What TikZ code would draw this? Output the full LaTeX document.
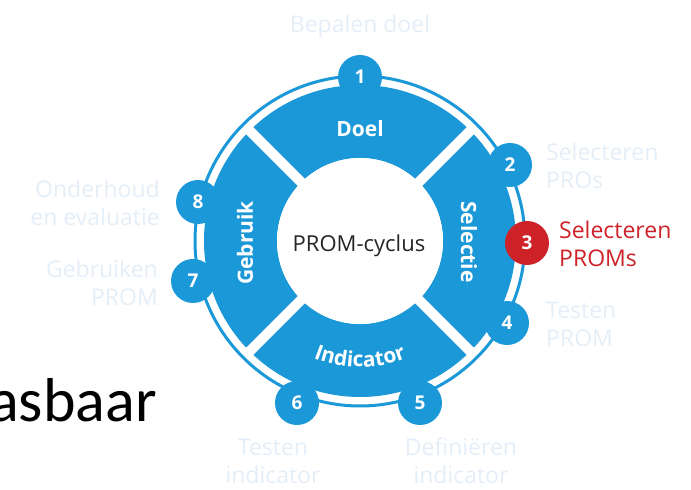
\documentclass[tikz,border=0pt]{standalone}
\usepackage{fontspec}
\setmainfont{Open Sans}
\newfontfamily\calibri{Carlito}
\usetikzlibrary{decorations.text}
\definecolor{promblue}{RGB}{27,152,216}
\definecolor{promred}{RGB}{204,34,40}
\definecolor{faint}{RGB}{228,238,248}
\begin{document}
\begin{tikzpicture}[x=1pt,y=1pt,
  num/.style={circle, fill=promblue, minimum size=44pt, inner sep=0pt, text=white, font=\bfseries\fontsize{19}{19}\selectfont},
  seglabel/.style={text=white, font=\bfseries\fontsize{21}{21}\selectfont, inner sep=0pt},
  faintlabel/.style={text=faint, font=\fontsize{23}{28}\selectfont, inner sep=0pt},
]
\useasboundingbox (0,0) rectangle (691,490);
\coordinate (c) at (360,249);
\fill[promblue, even odd rule] (c) circle[radius=156] (c) circle[radius=83];
\foreach \a in {45,135,225,315} \draw[white, line width=10pt] (c) -- ++(\a:160);
\node[circle, fill=white, minimum size=166pt, inner sep=0pt] (hub) at (c) {};
\node[anchor=base, inner sep=0pt, font=\fontsize{22}{22}\selectfont, text=black!85] (hubtext) at (359,238) {PROM-cyclus};
\draw[promblue, line width=3pt] (c) circle[radius=165];
% segment labels
\node[seglabel, anchor=base] (doel) at (360,353) {Doel};
\node[seglabel, rotate=-90] (selectie) at (469,248) {Selectie};
\node[seglabel, rotate=90] (gebruik) at (245,247) {Gebruik};
\path[decorate, decoration={text along path, text align=center,
  text={|\color{white}\bfseries\fontsize{21}{21}\selectfont|Indicator}}]
  (c) ++(235:126) arc[start angle=235, end angle=305, radius=126];
% numbers
\node[num] (n1) at (360,413) {1};
\node[num] (n2) at (510,325) {2};
\node[num, fill=promred] (n3) at (527,247) {3};
\node[num] (n4) at (507,167) {4};
\node[num] (n5) at (420,87) {5};
\node[num] (n6) at (297,87) {6};
\node[num] (n7) at (193,209) {7};
\node[num] (n8) at (198,288) {8};
% step labels
\node[faintlabel] (l1) at (360,463) {Bepalen doel};
\node[faintlabel, anchor=west, align=left] (l2) at (546,324) {Selecteren\\PROs};
\node[faintlabel, anchor=west, align=left, text=promred] (l3) at (559,246) {Selecteren\\PROMs};
\node[faintlabel, anchor=west, align=left] (l4) at (546,166) {Testen\\PROM};
\node[faintlabel, align=center] (l5) at (461,29) {Definiëren\\indicator};
\node[faintlabel, align=center] (l6) at (273,29) {Testen\\indicator};
\node[faintlabel, anchor=east, align=right] (l7) at (158,207) {Gebruiken\\PROM};
\node[faintlabel, anchor=east, align=right] (l8) at (160,287) {Onderhoud\\en evaluatie};
% slide text
\node[anchor=base east, inner sep=0pt, font=\calibri\fontsize{62}{64}\selectfont] (slide) at (157,68) {asbaar};
\end{tikzpicture}
\end{document}
